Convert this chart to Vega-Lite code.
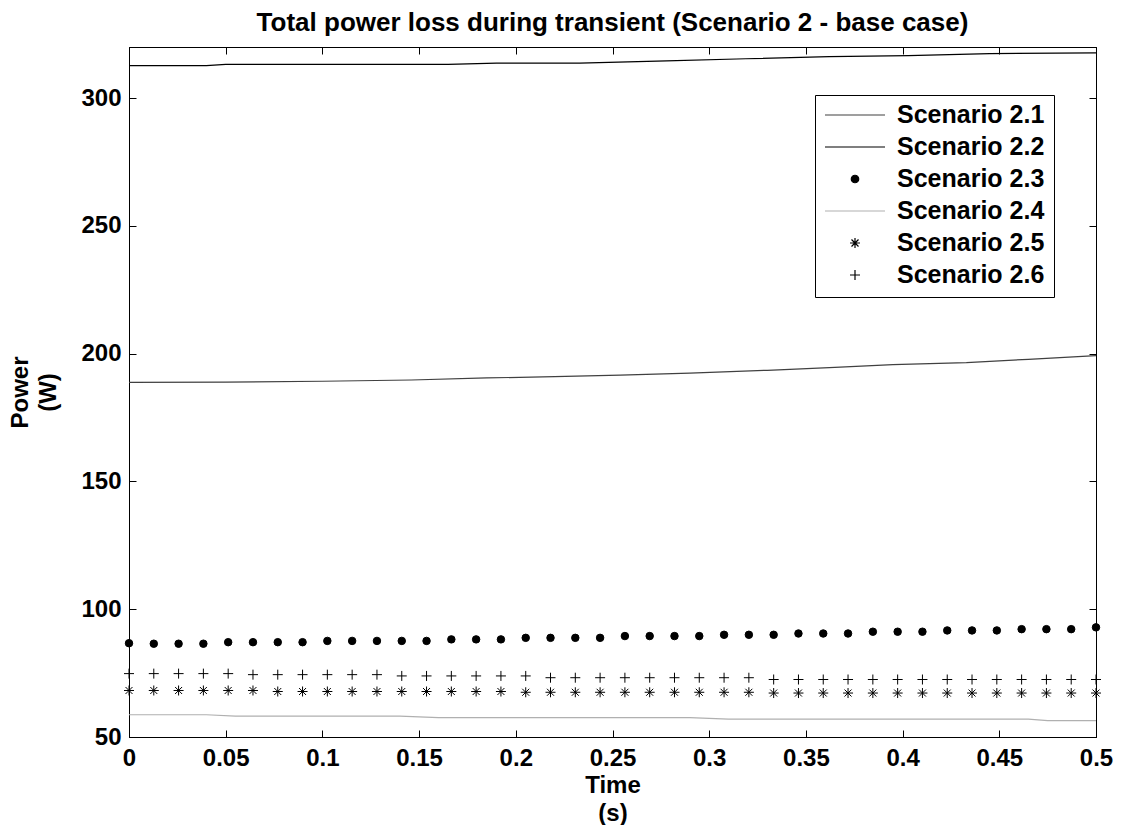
{
  "$schema": "https://vega.github.io/schema/vega-lite/v6.json",
  "width": 967,
  "height": 690,
  "autosize": {"type": "none"},
  "padding": {"left": 129, "top": 47, "right": 27, "bottom": 88},
  "background": "white",
  "title": {"text": "Total power loss during transient (Scenario 2 - base case)", "font": "Liberation Sans", "fontSize": 26, "fontWeight": "bold", "anchor": "middle", "offset": 11, "color": "black"},
  "config": {
    "view": {"stroke": "black", "strokeWidth": 1},
    "axis": {"grid": false, "domainColor": "black", "tickColor": "black", "labelColor": "black", "titleColor": "black", "labelFont": "Liberation Sans", "labelFontWeight": "bold", "labelFontSize": 24, "titleFont": "Liberation Sans", "titleFontWeight": "bold", "titleFontSize": 24, "titleLineHeight": 28, "labelFlush": false, "labelOverlap": false, "tickSize": -7, "domainWidth": 1, "tickWidth": 1}
  },
  "datasets": {
    "lines": [
      {"t": 0, "p": 312.7, "s": "Scenario 2.2"}, {"t": 0.04, "p": 312.7, "s": "Scenario 2.2"}, {"t": 0.05, "p": 313.2, "s": "Scenario 2.2"}, {"t": 0.165, "p": 313.2, "s": "Scenario 2.2"}, {"t": 0.19, "p": 313.7, "s": "Scenario 2.2"}, {"t": 0.233, "p": 313.7, "s": "Scenario 2.2"}, {"t": 0.278, "p": 314.6, "s": "Scenario 2.2"}, {"t": 0.319, "p": 315.4, "s": "Scenario 2.2"}, {"t": 0.362, "p": 316.2, "s": "Scenario 2.2"}, {"t": 0.403, "p": 316.6, "s": "Scenario 2.2"}, {"t": 0.445, "p": 317.4, "s": "Scenario 2.2"}, {"t": 0.5, "p": 317.7, "s": "Scenario 2.2"},
      {"t": 0, "p": 188.8, "s": "Scenario 2.1"}, {"t": 0.05, "p": 188.9, "s": "Scenario 2.1"}, {"t": 0.1, "p": 189.2, "s": "Scenario 2.1"}, {"t": 0.146, "p": 189.7, "s": "Scenario 2.1"}, {"t": 0.185, "p": 190.5, "s": "Scenario 2.1"}, {"t": 0.22, "p": 191.0, "s": "Scenario 2.1"}, {"t": 0.254, "p": 191.6, "s": "Scenario 2.1"}, {"t": 0.29, "p": 192.4, "s": "Scenario 2.1"}, {"t": 0.33, "p": 193.5, "s": "Scenario 2.1"}, {"t": 0.365, "p": 194.6, "s": "Scenario 2.1"}, {"t": 0.395, "p": 195.7, "s": "Scenario 2.1"}, {"t": 0.433, "p": 196.5, "s": "Scenario 2.1"}, {"t": 0.465, "p": 197.8, "s": "Scenario 2.1"}, {"t": 0.5, "p": 199.2, "s": "Scenario 2.1"},
      {"t": 0, "p": 58.7, "s": "Scenario 2.4"}, {"t": 0.04, "p": 58.7, "s": "Scenario 2.4"}, {"t": 0.055, "p": 58.2, "s": "Scenario 2.4"}, {"t": 0.14, "p": 58.2, "s": "Scenario 2.4"}, {"t": 0.16, "p": 57.6, "s": "Scenario 2.4"}, {"t": 0.29, "p": 57.6, "s": "Scenario 2.4"}, {"t": 0.31, "p": 57.0, "s": "Scenario 2.4"}, {"t": 0.465, "p": 57.0, "s": "Scenario 2.4"}, {"t": 0.475, "p": 56.4, "s": "Scenario 2.4"}, {"t": 0.5, "p": 56.4, "s": "Scenario 2.4"}
    ],
    "marks": [
      {"t": 0, "p": 86.7, "s": "Scenario 2.3"}, {"t": 0.01282, "p": 86.5, "s": "Scenario 2.3"}, {"t": 0.02564, "p": 86.5, "s": "Scenario 2.3"}, {"t": 0.03846, "p": 86.5, "s": "Scenario 2.3"}, {"t": 0.05128, "p": 87.1, "s": "Scenario 2.3"}, {"t": 0.0641, "p": 87.1, "s": "Scenario 2.3"}, {"t": 0.07692, "p": 87.1, "s": "Scenario 2.3"}, {"t": 0.08974, "p": 87.1, "s": "Scenario 2.3"}, {"t": 0.10256, "p": 87.6, "s": "Scenario 2.3"}, {"t": 0.11538, "p": 87.6, "s": "Scenario 2.3"},
      {"t": 0.12821, "p": 87.6, "s": "Scenario 2.3"}, {"t": 0.14103, "p": 87.6, "s": "Scenario 2.3"}, {"t": 0.15385, "p": 87.6, "s": "Scenario 2.3"}, {"t": 0.16667, "p": 88.2, "s": "Scenario 2.3"}, {"t": 0.17949, "p": 88.2, "s": "Scenario 2.3"}, {"t": 0.19231, "p": 88.2, "s": "Scenario 2.3"}, {"t": 0.20513, "p": 88.8, "s": "Scenario 2.3"}, {"t": 0.21795, "p": 88.8, "s": "Scenario 2.3"}, {"t": 0.23077, "p": 88.8, "s": "Scenario 2.3"}, {"t": 0.24359, "p": 88.8, "s": "Scenario 2.3"},
      {"t": 0.25641, "p": 89.5, "s": "Scenario 2.3"}, {"t": 0.26923, "p": 89.5, "s": "Scenario 2.3"}, {"t": 0.28205, "p": 89.5, "s": "Scenario 2.3"}, {"t": 0.29487, "p": 89.5, "s": "Scenario 2.3"}, {"t": 0.30769, "p": 90.0, "s": "Scenario 2.3"}, {"t": 0.32051, "p": 90.0, "s": "Scenario 2.3"}, {"t": 0.33333, "p": 90.0, "s": "Scenario 2.3"}, {"t": 0.34615, "p": 90.5, "s": "Scenario 2.3"}, {"t": 0.35897, "p": 90.5, "s": "Scenario 2.3"}, {"t": 0.37179, "p": 90.5, "s": "Scenario 2.3"},
      {"t": 0.38462, "p": 91.2, "s": "Scenario 2.3"}, {"t": 0.39744, "p": 91.2, "s": "Scenario 2.3"}, {"t": 0.41026, "p": 91.2, "s": "Scenario 2.3"}, {"t": 0.42308, "p": 91.7, "s": "Scenario 2.3"}, {"t": 0.4359, "p": 91.7, "s": "Scenario 2.3"}, {"t": 0.44872, "p": 91.7, "s": "Scenario 2.3"}, {"t": 0.46154, "p": 92.2, "s": "Scenario 2.3"}, {"t": 0.47436, "p": 92.2, "s": "Scenario 2.3"}, {"t": 0.48718, "p": 92.2, "s": "Scenario 2.3"}, {"t": 0.5, "p": 92.9, "s": "Scenario 2.3"},
      {"t": 0, "p": 68.2, "s": "Scenario 2.5"}, {"t": 0.01282, "p": 68.2, "s": "Scenario 2.5"}, {"t": 0.02564, "p": 68.2, "s": "Scenario 2.5"}, {"t": 0.03846, "p": 68.2, "s": "Scenario 2.5"}, {"t": 0.05128, "p": 68.2, "s": "Scenario 2.5"}, {"t": 0.0641, "p": 68.2, "s": "Scenario 2.5"}, {"t": 0.07692, "p": 67.8, "s": "Scenario 2.5"}, {"t": 0.08974, "p": 67.8, "s": "Scenario 2.5"}, {"t": 0.10256, "p": 67.8, "s": "Scenario 2.5"}, {"t": 0.11538, "p": 67.8, "s": "Scenario 2.5"},
      {"t": 0.12821, "p": 67.8, "s": "Scenario 2.5"}, {"t": 0.14103, "p": 67.8, "s": "Scenario 2.5"}, {"t": 0.15385, "p": 67.8, "s": "Scenario 2.5"}, {"t": 0.16667, "p": 67.8, "s": "Scenario 2.5"}, {"t": 0.17949, "p": 67.8, "s": "Scenario 2.5"}, {"t": 0.19231, "p": 67.8, "s": "Scenario 2.5"}, {"t": 0.20513, "p": 67.5, "s": "Scenario 2.5"}, {"t": 0.21795, "p": 67.5, "s": "Scenario 2.5"}, {"t": 0.23077, "p": 67.5, "s": "Scenario 2.5"}, {"t": 0.24359, "p": 67.5, "s": "Scenario 2.5"},
      {"t": 0.25641, "p": 67.5, "s": "Scenario 2.5"}, {"t": 0.26923, "p": 67.5, "s": "Scenario 2.5"}, {"t": 0.28205, "p": 67.5, "s": "Scenario 2.5"}, {"t": 0.29487, "p": 67.5, "s": "Scenario 2.5"}, {"t": 0.30769, "p": 67.5, "s": "Scenario 2.5"}, {"t": 0.32051, "p": 67.5, "s": "Scenario 2.5"}, {"t": 0.33333, "p": 67.2, "s": "Scenario 2.5"}, {"t": 0.34615, "p": 67.2, "s": "Scenario 2.5"}, {"t": 0.35897, "p": 67.2, "s": "Scenario 2.5"}, {"t": 0.37179, "p": 67.2, "s": "Scenario 2.5"},
      {"t": 0.38462, "p": 67.2, "s": "Scenario 2.5"}, {"t": 0.39744, "p": 67.2, "s": "Scenario 2.5"}, {"t": 0.41026, "p": 67.2, "s": "Scenario 2.5"}, {"t": 0.42308, "p": 67.2, "s": "Scenario 2.5"}, {"t": 0.4359, "p": 67.2, "s": "Scenario 2.5"}, {"t": 0.44872, "p": 67.2, "s": "Scenario 2.5"}, {"t": 0.46154, "p": 67.2, "s": "Scenario 2.5"}, {"t": 0.47436, "p": 67.2, "s": "Scenario 2.5"}, {"t": 0.48718, "p": 67.2, "s": "Scenario 2.5"}, {"t": 0.5, "p": 67.2, "s": "Scenario 2.5"},
      {"t": 0, "p": 74.8, "s": "Scenario 2.6"}, {"t": 0.01282, "p": 74.8, "s": "Scenario 2.6"}, {"t": 0.02564, "p": 74.8, "s": "Scenario 2.6"}, {"t": 0.03846, "p": 74.8, "s": "Scenario 2.6"}, {"t": 0.05128, "p": 74.8, "s": "Scenario 2.6"}, {"t": 0.0641, "p": 74.4, "s": "Scenario 2.6"}, {"t": 0.07692, "p": 74.4, "s": "Scenario 2.6"}, {"t": 0.08974, "p": 74.4, "s": "Scenario 2.6"}, {"t": 0.10256, "p": 74.4, "s": "Scenario 2.6"}, {"t": 0.11538, "p": 74.4, "s": "Scenario 2.6"},
      {"t": 0.12821, "p": 74.4, "s": "Scenario 2.6"}, {"t": 0.14103, "p": 73.9, "s": "Scenario 2.6"}, {"t": 0.15385, "p": 73.9, "s": "Scenario 2.6"}, {"t": 0.16667, "p": 73.9, "s": "Scenario 2.6"}, {"t": 0.17949, "p": 73.9, "s": "Scenario 2.6"}, {"t": 0.19231, "p": 73.9, "s": "Scenario 2.6"}, {"t": 0.20513, "p": 73.9, "s": "Scenario 2.6"}, {"t": 0.21795, "p": 73.2, "s": "Scenario 2.6"}, {"t": 0.23077, "p": 73.2, "s": "Scenario 2.6"}, {"t": 0.24359, "p": 73.2, "s": "Scenario 2.6"},
      {"t": 0.25641, "p": 73.2, "s": "Scenario 2.6"}, {"t": 0.26923, "p": 73.2, "s": "Scenario 2.6"}, {"t": 0.28205, "p": 73.2, "s": "Scenario 2.6"}, {"t": 0.29487, "p": 73.2, "s": "Scenario 2.6"}, {"t": 0.30769, "p": 73.2, "s": "Scenario 2.6"}, {"t": 0.32051, "p": 73.2, "s": "Scenario 2.6"}, {"t": 0.33333, "p": 72.5, "s": "Scenario 2.6"}, {"t": 0.34615, "p": 72.5, "s": "Scenario 2.6"}, {"t": 0.35897, "p": 72.5, "s": "Scenario 2.6"}, {"t": 0.37179, "p": 72.5, "s": "Scenario 2.6"},
      {"t": 0.38462, "p": 72.5, "s": "Scenario 2.6"}, {"t": 0.39744, "p": 72.5, "s": "Scenario 2.6"}, {"t": 0.41026, "p": 72.5, "s": "Scenario 2.6"}, {"t": 0.42308, "p": 72.5, "s": "Scenario 2.6"}, {"t": 0.4359, "p": 72.5, "s": "Scenario 2.6"}, {"t": 0.44872, "p": 72.5, "s": "Scenario 2.6"}, {"t": 0.46154, "p": 72.5, "s": "Scenario 2.6"}, {"t": 0.47436, "p": 72.5, "s": "Scenario 2.6"}, {"t": 0.48718, "p": 72.5, "s": "Scenario 2.6"}, {"t": 0.5, "p": 72.5, "s": "Scenario 2.6"}
    ]
  },
  "layer": [
    {
      "data": {"name": "lines"},
      "mark": {"type": "line", "strokeWidth": 1.2},
      "encoding": {
        "x": {"field": "t", "type": "quantitative", "scale": {"domain": [0, 0.5], "nice": false, "zero": false},
              "axis": {"orient": "bottom", "values": [0, 0.05, 0.1, 0.15, 0.2, 0.25, 0.3, 0.35, 0.4, 0.45, 0.5], "format": "~g", "labelPadding": 16, "title": ["Time", "(s)"], "titlePadding": 3}},
        "y": {"field": "p", "type": "quantitative", "scale": {"domain": [50, 320], "nice": false, "zero": false},
              "axis": {"orient": "left", "values": [50, 100, 150, 200, 250, 300], "format": "d", "labelPadding": 15, "title": ["Power", "(W)"], "titlePadding": 20}},
        "color": {"field": "s", "type": "nominal", "scale": {"domain": ["Scenario 2.1", "Scenario 2.2", "Scenario 2.4"], "range": ["#404040", "#000000", "#b0b0b0"]}, "legend": null}
      }
    },
    {
      "data": {"name": "marks"},
      "mark": {"type": "point", "filled": true, "strokeWidth": 1, "opacity": 1},
      "encoding": {
        "x": {"field": "t", "type": "quantitative", "scale": {"domain": [0, 0.5], "nice": false, "zero": false},
              "axis": {"orient": "top", "values": [0, 0.05, 0.1, 0.15, 0.2, 0.25, 0.3, 0.35, 0.4, 0.45, 0.5], "labels": false, "title": null}},
        "y": {"field": "p", "type": "quantitative", "scale": {"domain": [50, 320], "nice": false, "zero": false},
              "axis": {"orient": "right", "values": [50, 100, 150, 200, 250, 300], "labels": false, "title": null}},
        "shape": {"field": "s", "type": "nominal",
                  "scale": {"domain": ["Scenario 2.1", "Scenario 2.2", "Scenario 2.3", "Scenario 2.4", "Scenario 2.5", "Scenario 2.6"],
                            "range": ["stroke", "stroke", "circle", "stroke", "M-1,0H1M0,-1V1M-0.7,-0.7L0.7,0.7M-0.7,0.7L0.7,-0.7", "M-1,0H1M0,-1V1"]},
                  "legend": {"orient": "none", "legendX": 686, "legendY": 48, "title": null, "labelFont": "Liberation Sans", "labelFontSize": 25, "labelFontWeight": "bold", "labelColor": "black", "strokeColor": "black", "fillColor": "white", "padding": 9, "rowPadding": 7, "clipHeight": 22, "labelOffset": 11, "symbolStrokeWidth": 1.2, "labelLimit": 400}},
        "size": {"field": "s", "type": "nominal",
                 "scale": {"type": "ordinal", "domain": ["Scenario 2.1", "Scenario 2.2", "Scenario 2.3", "Scenario 2.4", "Scenario 2.5", "Scenario 2.6"], "range": [3600, 3600, 56, 3600, 100, 100]}},
        "fill": {"field": "s", "type": "nominal",
                 "scale": {"domain": ["Scenario 2.1", "Scenario 2.2", "Scenario 2.3", "Scenario 2.4", "Scenario 2.5", "Scenario 2.6"], "range": ["transparent", "transparent", "#000000", "transparent", "transparent", "transparent"]}},
        "stroke": {"field": "s", "type": "nominal",
                   "scale": {"domain": ["Scenario 2.1", "Scenario 2.2", "Scenario 2.3", "Scenario 2.4", "Scenario 2.5", "Scenario 2.6"], "range": ["#404040", "#000000", "#000000", "#b0b0b0", "#000000", "#000000"]}}
      }
    }
  ],
  "resolve": {"axis": {"x": "independent", "y": "independent"}}
}
